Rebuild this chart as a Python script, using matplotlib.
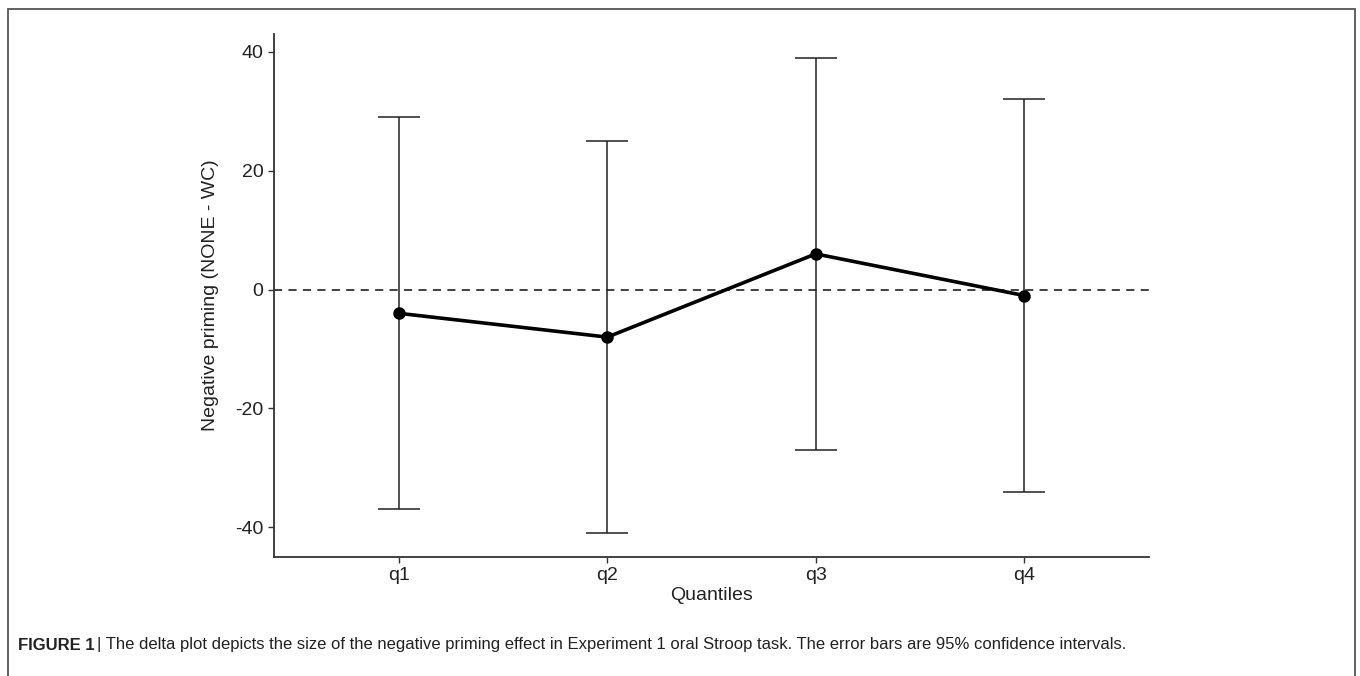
import numpy as np
import matplotlib.pyplot as plt
from matplotlib.patches import Rectangle

quantiles = ['q1', 'q2', 'q3', 'q4']
means = [-4, -8, 6, -1]
ci_low = [-37, -41, -27, -34]
ci_high = [29, 25, 39, 32]

plt.rcParams['font.family'] = ['Liberation Sans', 'DejaVu Sans']
plt.rcParams['axes.unicode_minus'] = False

fig = plt.figure(figsize=(13.6, 6.76), dpi=100)
ax = fig.add_axes([274/1360, 1-557/676, (1149-274)/1360, (557-34)/676])

x = np.arange(1, len(quantiles)+1)
m = np.array(means)
lo = m - np.array(ci_low)
hi = np.array(ci_high) - m

ax.axhline(0, color='#333333', lw=1.3, ls=(0, (4.5, 3.5)), zorder=1)
ax.errorbar(x, m, yerr=[lo, hi], fmt='none', ecolor='#222222', elinewidth=1.1,
            capsize=15, capthick=1.1, zorder=2)
ax.plot(x, m, color='black', lw=2.6, marker='o', markersize=8, zorder=3)

ax.set_xlim(0.4, 4.6)
ax.set_ylim(-45, 43)
ax.set_xticks(x)
ax.set_xticklabels(quantiles)
ax.set_yticks([-40, -20, 0, 20, 40])
ax.tick_params(labelsize=14, colors='#333333', length=4, width=1, labelcolor='#222222')
for s in ['top', 'right']:
    ax.spines[s].set_visible(False)
for s in ['left', 'bottom']:
    ax.spines[s].set_linewidth(1.3)
    ax.spines[s].set_color('#333333')
ax.set_xlabel('Quantiles', fontsize=14, labelpad=2, color='#222222')
ax.set_ylabel('Negative priming (NONE - WC)', fontsize=14, labelpad=12, color='#222222')

# border round the whole figure (bottom edge is cut off)
fig.patches.append(Rectangle((8/1360, -0.1), (1355-8)/1360, 1.1 - 9/676, transform=fig.transFigure,
                             fill=False, edgecolor='#555555', lw=1.3))

t1 = fig.text(18/1360, 1-645/676, 'FIGURE 1', fontsize=12, fontweight='bold', va='center', color='#222222')
ax.annotate('| The delta plot depicts the size of the negative priming effect in Experiment 1 oral Stroop task. The error bars are 95% confidence intervals.',
            xy=(1, 0.5), xycoords=t1, xytext=(2, 0), textcoords='offset points',
            fontsize=12, va='center', ha='left', color='#222222', annotation_clip=False)

fig.savefig('out.png', dpi=100)
